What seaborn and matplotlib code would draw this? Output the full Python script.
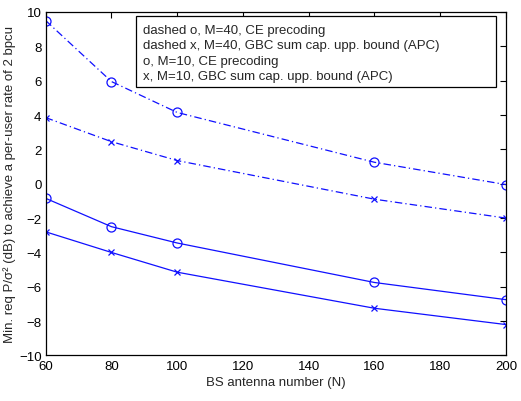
import matplotlib
matplotlib.use("Agg")
import matplotlib.pyplot as plt
import seaborn as sns
import pandas as pd
from matplotlib.patches import Rectangle

# Data
antennas = [60, 80, 100, 160, 200]
ce_m40 = [9.5, 5.95, 4.15, 1.25, -0.05]
gbc_m40 = [3.85, 2.45, 1.35, -0.9, -2.0]
ce_m10 = [-0.85, -2.5, -3.45, -5.75, -6.75]
gbc_m10 = [-2.8, -4.0, -5.15, -7.25, -8.2]
legend_labels = [
    "dashed o, M=40, CE precoding",
    "dashed x, M=40, GBC sum cap. upp. bound (APC)",
    "o, M=10, CE precoding",
    "x, M=10, GBC sum cap. upp. bound (APC)",
]
xticks = [60, 80, 100, 120, 140, 160, 180, 200]
yticks = [-10, -8, -6, -4, -2, 0, 2, 4, 6, 8, 10]

sns.set_style("white")
plt.rcParams["font.family"] = ["Liberation Sans", "DejaVu Sans"]

fig = plt.figure(figsize=(5.21, 4.02), dpi=100)
ax = fig.add_axes([0.0877, 0.1132, 0.8835, 0.8545])

blue = "#1010ff"
dashdot = (0, (6, 2.5, 1, 2.5))

series = [
    (ce_m40, "o", dashdot),
    (gbc_m40, "x", dashdot),
    (ce_m10, "o", "-"),
    (gbc_m10, "x", "-"),
]
for vals, mk, ls in series:
    df = pd.DataFrame({"N": antennas, "v": vals})
    sns.lineplot(data=df, x="N", y="v", ax=ax, color=blue, linewidth=0.9,
                 linestyle=ls, marker=mk, markersize=6.5 if mk == "o" else 4.5,
                 markerfacecolor="none", markeredgecolor=blue,
                 markeredgewidth=0.9)

ax.set_xlim(60, 200)
ax.set_ylim(-10, 10)
ax.set_xticks(xticks)
ax.set_yticks(yticks)
ax.tick_params(direction="in", top=True, right=True, length=4, width=0.8,
               labelsize=9.5, colors="black", pad=3)
for s in ax.spines.values():
    s.set_visible(True)
    s.set_color("black")
    s.set_linewidth(0.9)

ax.set_xlabel("BS antenna number (N)", fontsize=9.5, labelpad=3)
ax.set_ylabel("Min. req P/σ² (dB) to achieve a per-user rate of 2 bpcu",
              fontsize=9.5, labelpad=2)

# Text-only legend box (as in the original)
box = Rectangle((0.196, 0.781), 0.978 - 0.196, 0.9875 - 0.781,
                transform=ax.transAxes, facecolor="white", edgecolor="black",
                linewidth=0.9, zorder=5)
ax.add_patch(box)
line_y = [0.9485, 0.903, 0.857, 0.813]
for lab, yy in zip(legend_labels, line_y):
    ax.text(0.2107, yy, lab, transform=ax.transAxes, fontsize=9.5,
            va="center", ha="left", zorder=6)

fig.savefig("out.png", dpi=100)
